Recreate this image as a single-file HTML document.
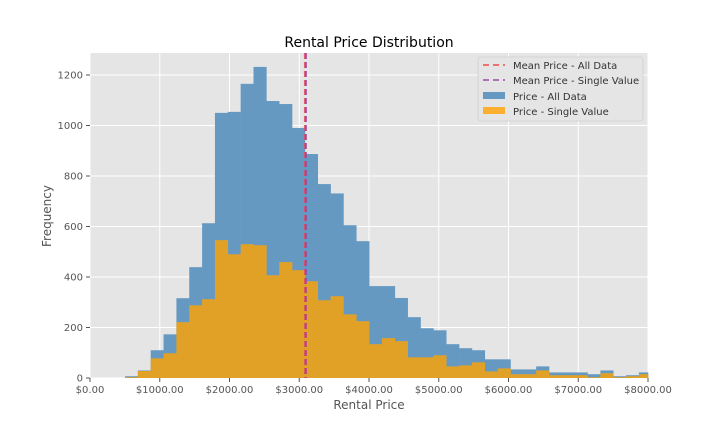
<!DOCTYPE html>
<html><head><meta charset="utf-8"><style>
body{margin:0;background:#fff;}
svg{display:block;font-family:"DejaVu Sans","Liberation Sans",sans-serif;}
</style></head><body>
<svg id="chart" width="720" height="432">
<rect x="0" y="0" width="720" height="432" fill="#fff"/>
<rect x="90" y="53" width="558" height="325" fill="#e5e5e5"/>
<g id="grid"></g>
<g id="bars"></g>
<g id="means"></g>
<g id="axes"></g>
<text x="369" y="47" text-anchor="middle" font-size="14" fill="#000">Rental Price Distribution</text>
<text x="369" y="409" text-anchor="middle" font-size="12" fill="#555">Rental Price</text>
<text x="51" y="216" text-anchor="middle" font-size="12" fill="#555" transform="rotate(-90 51 216)">Frequency</text>
<g>
<rect x="478" y="57" width="165" height="64" rx="3" fill="#e5e5e5" stroke="#d0d0d0" stroke-width="0.8"/>
<line x1="483" y1="65" x2="505" y2="65" stroke="#f07070" stroke-width="2" stroke-dasharray="6,4"/>
<text x="513" y="69" font-size="10" fill="#333">Mean Price - All Data</text>
<line x1="483" y1="80" x2="505" y2="80" stroke="#b070b8" stroke-width="2" stroke-dasharray="6,4"/>
<text x="513" y="84" font-size="10" fill="#333">Mean Price - Single Value</text>
<rect x="483" y="92" width="22" height="7" fill="#6699c2"/>
<text x="513" y="100" font-size="10" fill="#333">Price - All Data</text>
<rect x="483" y="107" width="22" height="7" fill="#fbb030"/>
<text x="513" y="115" font-size="10" fill="#333">Price - Single Value</text>
</g>
</svg>
<script>
const binStart = 502;
const binWidth = 184.2;
const allCounts = [7,30,110,173,316,439,613,1050,1054,1165,1232,1097,1085,990,887,768,731,605,542,364,364,317,241,197,189,134,118,110,74,74,34,34,46,22,22,22,15,30,7,11,22];
const singleCounts = [3,28,78,98,221,288,312,546,490,530,526,407,459,427,383,308,324,252,225,134,158,146,82,82,90,46,50,62,26,38,15,15,30,11,11,11,3,19,3,7,15];
const meanAll = 3085;
const meanSingle = 3095;
const xTicks = [0,1000,2000,3000,4000,5000,6000,7000,8000];
const yTicks = [0,200,400,600,800,1000,1200];

const X0=90,X1=648,Y0=378,Y1=53;
const xs = v => X0 + v/8000*(X1-X0);
const ys = v => Y0 - v*0.2525;
const NS="http://www.w3.org/2000/svg";
function mk(tag, attrs, parent){const e=document.createElementNS(NS,tag);for(const k in attrs)e.setAttribute(k,attrs[k]);parent.appendChild(e);return e;}
const grid=document.getElementById('grid'), bars=document.getElementById('bars'), means=document.getElementById('means'), axes=document.getElementById('axes');
xTicks.forEach(t=>{
  const l=mk('line',{x1:xs(t),x2:xs(t),y1:Y1,y2:Y0,stroke:'#fff','stroke-width':1},grid);
  
  
  const tk=mk('line',{x1:xs(t),x2:xs(t),y1:Y0,y2:Y0+4,stroke:'#555'},axes);
  
  
  const tx=mk('text',{x:xs(t),y:Y0+15,'text-anchor':'middle','font-size':10,fill:'#555'},axes);
  tx.textContent='$'+t.toFixed(2);
  
  
});
yTicks.forEach(t=>{
  const l=mk('line',{x1:X0,x2:X1,y1:ys(t),y2:ys(t),stroke:'#fff','stroke-width':1},grid);
  
  
  const tk=mk('line',{x1:X0-4,x2:X0,y1:ys(t),y2:ys(t),stroke:'#555'},axes);
  
  
  const tx=mk('text',{x:X0-7,y:ys(t)+3.5,'text-anchor':'end','font-size':10,fill:'#555'},axes);
  tx.textContent=t;
  
  
});
function drawSeries(arr, color, name){
  arr.forEach((c,i)=>{
    const a=binStart+i*binWidth, b=Math.min(8000,a+binWidth);
    const r=mk('rect',{x:xs(a),y:ys(c),width:xs(b)-xs(a)+0.3,height:ys(0)-ys(c),fill:color},bars);
    
    
  });
}
drawSeries(allCounts,'#6699c2','bar-all-data');
drawSeries(singleCounts,'#e1a127','bar-single-value');
const m1=mk('line',{x1:xs(meanAll),x2:xs(meanAll),y1:Y1,y2:Y0,stroke:'#e8505a','stroke-width':2.5,'stroke-dasharray':'6,3',opacity:0.85},means);


const m2=mk('line',{x1:xs(meanSingle),x2:xs(meanSingle),y1:Y1,y2:Y0,stroke:'#9a40a8','stroke-width':2,'stroke-dasharray':'6,3',opacity:0.8},means);


</script>
</body></html>
